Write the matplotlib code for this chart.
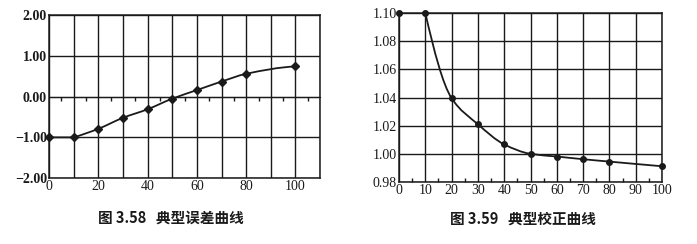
import numpy as np
import matplotlib
matplotlib.use('Agg')
import matplotlib.pyplot as plt
from matplotlib.path import Path
from matplotlib.patches import PathPatch

plt.rcParams['font.family'] = ['Liberation Serif', 'DejaVu Sans']
plt.rcParams['axes.unicode_minus'] = True

# data
err_x = [0, 10, 20, 30, 40, 50, 60, 70, 80, 100]
err_y = [-1.00, -1.00, -0.79, -0.52, -0.31, -0.05, 0.16, 0.37, 0.56, 0.74]
err_xticks = [0, 10, 20, 30, 40, 50, 60, 70, 80, 90, 100, 110]
err_xlabels = ['0', '', '20', '', '40', '', '60', '', '80', '', '100', '']
err_yticks = [-2.0, -1.0, 0.0, 1.0, 2.0]
err_ylabels = ['\u22122.00', '\u22121.00', '0.00', '1.00', '2.00']

cor_x = [0, 10, 20, 30, 40, 50, 60, 70, 80, 100]
cor_y = [1.100, 1.100, 1.0395, 1.021, 1.0067, 1.000, 0.9981, 0.9962, 0.9945, 0.9912]
cor_xticks = [0, 10, 20, 30, 40, 50, 60, 70, 80, 90, 100]
cor_yticks = [0.98, 1.00, 1.02, 1.04, 1.06, 1.08, 1.10]

captions = ['图 3.58   典型误差曲线', '图 3.59   典型校正曲线']

INK = '#1a1a1a'
CJK = ['Noto Sans CJK SC', 'DejaVu Sans']


def smooth_path(x, y, start=1):
    # straight lead-in, then a monotone cubic (bezier form) through the points
    x = np.asarray(x, float)
    y = np.asarray(y, float)
    verts = [(x[0], y[0])]
    codes = [Path.MOVETO]
    for i in range(1, start + 1):
        verts.append((x[i], y[i]))
        codes.append(Path.LINETO)
    xs, ys = x[start:], y[start:]
    h = np.diff(xs)
    d = np.diff(ys) / h
    m = np.zeros_like(xs)
    for k in range(1, len(xs) - 1):
        if d[k - 1] * d[k] > 0:
            w1 = 2 * h[k] + h[k - 1]
            w2 = h[k] + 2 * h[k - 1]
            m[k] = (w1 + w2) / (w1 / d[k - 1] + w2 / d[k])
    m[0] = ((2 * h[0] + h[1]) * d[0] - h[0] * d[1]) / (h[0] + h[1])
    m[-1] = ((2 * h[-1] + h[-2]) * d[-1] - h[-1] * d[-2]) / (h[-1] + h[-2])
    for k in range(len(xs) - 1):
        verts += [(xs[k] + h[k] / 3, ys[k] + m[k] * h[k] / 3),
                  (xs[k + 1] - h[k] / 3, ys[k + 1] - m[k + 1] * h[k] / 3),
                  (xs[k + 1], ys[k + 1])]
        codes += [Path.CURVE4] * 3
    return Path(verts, codes)


def style(ax):
    ax.grid(True, color=INK, linewidth=1.0)
    ax.set_axisbelow(True)
    for s in ax.spines.values():
        s.set_color(INK)
        s.set_linewidth(1.1)
    ax.tick_params(axis='both', length=0, labelsize=10, colors=INK, pad=1.5)


fig = plt.figure(figsize=(6.97, 2.44), dpi=100)

# left: error curve
ax1 = fig.add_axes([0.0703, 0.270, 0.389, 0.668])
ax1.set_xlim(0, 110)
ax1.set_ylim(-2, 2)
ax1.set_xticks(err_xticks)
ax1.set_xticklabels(err_xlabels)
ax1.set_yticks(err_yticks)
ax1.set_yticklabels(err_ylabels, fontweight='bold', fontsize=9.5)
style(ax1)
ax1.add_patch(PathPatch(smooth_path(err_x, err_y), facecolor='none',
                        edgecolor=INK, linewidth=1.3, zorder=3))
ax1.plot(err_x, err_y, linestyle='none', marker='D', markersize=3.6,
         color=INK, zorder=4, clip_on=False)
# small ticks along the zero line
sec = ax1.secondary_xaxis(0.5)
sec.set_xticks([])
sec.set_xticks(np.arange(5, 110, 10), minor=True)
sec.tick_params(which='minor', direction='in', length=3, width=1, colors=INK)
sec.spines['bottom'].set_visible(False)

# right: correction curve
ax2 = fig.add_axes([0.5725, 0.254, 0.3773, 0.6926])
ax2.set_xlim(0, 100)
ax2.set_ylim(0.98, 1.10)
ax2.set_xticks(cor_xticks)
ax2.set_yticks(cor_yticks)
ax2.set_yticklabels([f'{v:.2f}' for v in cor_yticks])
style(ax2)
ax2.set_xticks(np.arange(5, 100, 10), minor=True)
ax2.tick_params(axis='x', which='minor', direction='in', length=3, width=1,
                colors=INK)
ax2.add_patch(PathPatch(smooth_path(cor_x, cor_y), facecolor='none',
                        edgecolor=INK, linewidth=1.3, zorder=3))
ax2.plot(cor_x, cor_y, linestyle='none', marker='o', markersize=4,
         color=INK, zorder=4, clip_on=False)

fig.text(0.245, 0.11, captions[0], ha='center', va='center', fontsize=10.5,
         fontweight='bold', color=INK, family=CJK)
fig.text(0.75, 0.105, captions[1], ha='center', va='center', fontsize=10.5,
         fontweight='bold', color=INK, family=CJK)

fig.savefig('out.png', dpi=100, facecolor='white')
